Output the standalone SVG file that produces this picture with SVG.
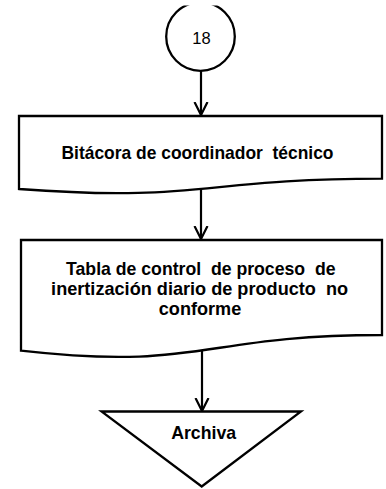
<svg xmlns="http://www.w3.org/2000/svg" width="386" height="489" viewBox="0 0 386 489">
<style>
.shape{fill:#fff;stroke:#000;stroke-width:2.3;stroke-linejoin:miter}
.conn{fill:none;stroke:#000;stroke-width:2.2}
.lbl{font-family:"Liberation Sans",Arial,sans-serif;font-weight:bold;font-size:18.2px;fill:#000;text-anchor:middle;white-space:pre}
.num{font-family:"Liberation Sans",Arial,sans-serif;font-size:16.5px;fill:#000;text-anchor:middle}
</style>
<defs>
<clipPath id="topclip"><rect x="0" y="5.5" width="386" height="484"/></clipPath>
<marker id="arr" viewBox="0 0 14 16" refX="13" refY="8" markerWidth="14" markerHeight="16" markerUnits="userSpaceOnUse" orient="auto">
<path d="M0,1.5 L13,8 L0,14.5" fill="none" stroke="#000" stroke-width="2.2"/>
</marker>
</defs>
<g id="connectors">
<line class="conn" x1="201" y1="71" x2="201" y2="115" marker-end="url(#arr)"/>
<line class="conn" x1="201" y1="189" x2="201" y2="239" marker-end="url(#arr)"/>
<line class="conn" x1="202" y1="350.5" x2="202" y2="411" marker-end="url(#arr)"/>
</g>
<g id="node-18">
<circle class="shape" cx="200.5" cy="36.5" r="34.3" stroke-width="2" clip-path="url(#topclip)"/>
<text class="num" x="201.5" y="44">18</text>
</g>
<g id="node-bitacora">
<path class="shape" d="M19,116 L382,116 L382,178.6 C200.5,178.6 200.5,202.6 19,189 Z"/>
<text class="lbl" x="197.5" y="158.5" xml:space="preserve" textLength="272" lengthAdjust="spacingAndGlyphs">Bitácora de coordinador  técnico</text>
</g>
<g id="node-tabla">
<path class="shape" d="M21,240 L382,240 L382,335 C201,335 201,371.2 21,350.7 Z"/>
<text class="lbl" x="200.8" y="274.5" xml:space="preserve" textLength="269.5" lengthAdjust="spacingAndGlyphs">Tabla de control  de proceso  de</text>
<text class="lbl" x="199.6" y="294.5" xml:space="preserve" textLength="297" lengthAdjust="spacingAndGlyphs">inertización diario de producto  no</text>
<text class="lbl" x="200" y="315" textLength="82.5" lengthAdjust="spacingAndGlyphs">conforme</text>
</g>
<g id="node-archiva">
<path class="shape" d="M101.5,411.5 L301,411.5 L201.7,486.5 Z" stroke-width="2"/>
<text class="lbl" x="203.7" y="439" textLength="65" lengthAdjust="spacingAndGlyphs">Archiva</text>
</g>
</svg>
